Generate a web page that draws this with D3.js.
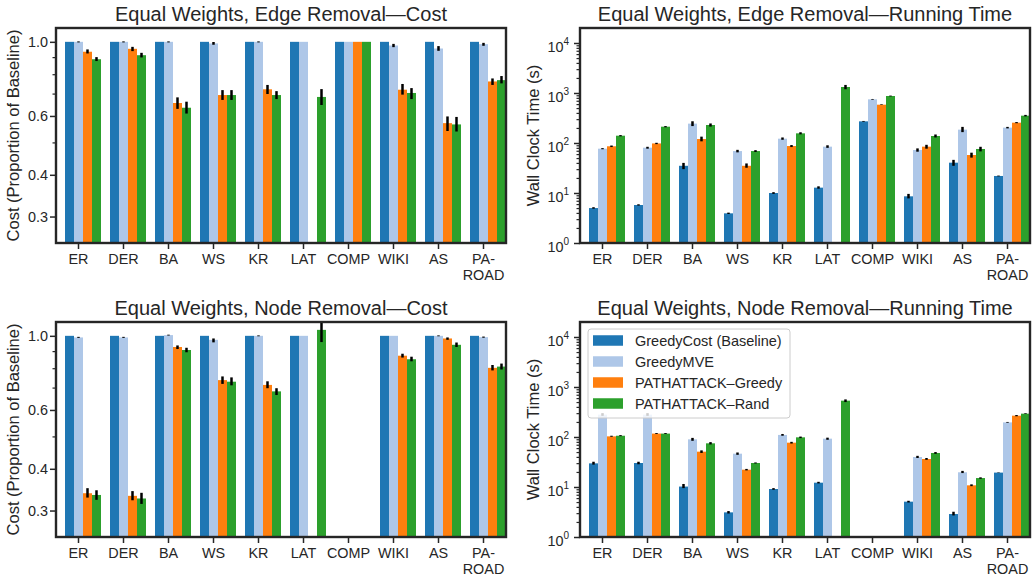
<!DOCTYPE html>
<html>
<head>
<meta charset="utf-8">
<script src="https://cdn.jsdelivr.net/npm/d3@7"></script>
<style>
  body { margin: 0; background: #fff; }
  text { font-family: "Liberation Sans", Arial, sans-serif; fill: #262626; }
</style>
</head>
<body>
<svg id="chart" width="1034" height="580"></svg>
<script>
// ---- categories and methods ----
const categories = ["ER", "DER", "BA", "WS", "KR", "LAT", "COMP", "WIKI", "AS", "PA-ROAD"];
const methods = ["GreedyCost (Baseline)", "GreedyMVE", "PATHATTACK\u2013Greedy", "PATHATTACK\u2013Rand"];
const colors = ["#1f77b4", "#aec7e8", "#ff7f0e", "#2ca02c"];

// ---- Edge removal: cost (proportion of baseline) ----
const edgeCostBase   = [1, 1, 1, 1, 1, 1, 1, 1, 1, 1];
const edgeCostMve    = [1.0, 1.0, 1.0, 0.989, 1.0, 1.0, 1.0, 0.975, 0.955, 0.984];
const edgeCostGreedy = [0.934, 0.953, 0.656, 0.693, 0.721, null, 1.0, 0.719, 0.571, 0.761];
const edgeCostRand   = [0.887, 0.912, 0.635, 0.693, 0.693, 0.684, 1.0, 0.703, 0.566, 0.768];
const edgeCostMveCI    = [[0.996, 1.003], [0.996, 1.003], [0.996, 1.003], [0.980, 0.999], [0.996, 1.003], null, null, [0.964, 0.986], [0.940, 0.971], [0.973, 0.993]];
const edgeCostGreedyCI = [[0.923, 0.949], [0.938, 0.966], [0.630, 0.682], [0.670, 0.717], [0.698, 0.743], null, null, [0.695, 0.748], [0.541, 0.598], [0.743, 0.777]];
const edgeCostRandCI   = [[0.876, 0.900], [0.898, 0.927], [0.610, 0.662], [0.670, 0.717], [0.674, 0.712], [0.647, 0.722], null, [0.674, 0.727], [0.539, 0.596], [0.751, 0.790]];

// ---- Edge removal: running time (s) ----
const edgeTimeBase   = [5.0, 5.75, 35, 3.92, 10, 12.8, 271, 8.58, 40.4, 21.9];
const edgeTimeMve    = [77, 80.6, 244, 69, 122, 84.5, 747, 72.4, 185, 203];
const edgeTimeGreedy = [86, 98, 120, 35, 87, null, 584, 84.5, 57.5, 255];
const edgeTimeRand   = [140, 212, 229, 69, 156, 1318, 871, 138, 75.9, 352];
const edgeTimeBaseCI   = [[4.85, 5.2], [5.6, 5.95], [30, 40], [3.8, 4.05], [9.6, 10.4], [12.2, 13.6], [266, 276], [7.8, 9.6], [35, 46], [21.5, 22.3]];
const edgeTimeMveCI    = [[75, 79], [77, 84], [218, 272], [65, 73], [116, 129], [80, 90], [735, 760], [67, 78], [165, 210], [196, 210]];
const edgeTimeGreedyCI = [[83, 89], [95, 101], [108, 134], [32, 39], [83, 91], null, [575, 593], [77, 92], [51, 64], [249, 262]];
const edgeTimeRandCI   = [[136, 144], [206, 218], [213, 246], [66, 72], [149, 164], [1190, 1450], [855, 888], [129, 148], [68, 84], [340, 365]];

// ---- Node removal: cost (proportion of baseline) ----
const nodeCostBase   = [1, 1, 1, 1, 1, 1, null, 1, 1, 1];
const nodeCostMve    = [0.989, 0.989, 1.005, 0.973, 1.0, 1.0, null, 1.0, 1.0, 0.991];
const nodeCostGreedy = [0.338, 0.332, 0.926, 0.737, 0.713, null, null, 0.872, 0.982, 0.802];
const nodeCostRand   = [0.334, 0.326, 0.907, 0.729, 0.682, 1.042, null, 0.851, 0.940, 0.809];
const nodeCostMveCI    = [[0.986, 0.993], [0.986, 0.993], [1.002, 1.008], [0.956, 0.982], [0.997, 1.003], null, null, null, [0.997, 1.003], [0.987, 0.995]];
const nodeCostGreedyCI = [[0.328, 0.350], [0.322, 0.343], [0.913, 0.936], [0.718, 0.756], [0.697, 0.731], null, null, [0.861, 0.884], [0.973, 0.989], [0.788, 0.818]];
const nodeCostRandCI   = [[0.323, 0.345], [0.314, 0.339], [0.893, 0.921], [0.711, 0.751], [0.665, 0.697], [0.958, 1.12], null, [0.839, 0.866], [0.926, 0.955], [0.793, 0.826]];

// ---- Node removal: running time (s) ----
const nodeTimeBase   = [29.7, 30.2, 10.2, 3.11, 9.12, 12.2, null, 5.09, 2.88, 19.4];
const nodeTimeMve    = [280, 280, 89.8, 46.4, 110, 92.6, null, 39.8, 19.7, 196];
const nodeTimeGreedy = [103, 117, 50.9, 22.2, 77, null, null, 36.3, 10.8, 267];
const nodeTimeRand   = [106, 117, 74.7, 30.2, 98.5, 533, null, 47.9, 15.1, 293];
const nodeTimeBaseCI   = [[28, 32], [28.5, 32], [9.5, 11.5], [2.95, 3.3], [8.8, 9.5], [11.8, 12.7], null, [4.9, 5.3], [2.7, 3.2], [19.2, 19.6]];
const nodeTimeMveCI    = [[265, 300], [265, 300], [84, 96], [44, 49], [106, 115], [88, 97], null, [38, 42], [19, 21], [193, 200]];
const nodeTimeGreedyCI = [[101, 106], [115, 120], [48, 54], [21.5, 23], [74, 80], null, null, [35, 38], [10.4, 11.3], [260, 275]];
const nodeTimeRandCI   = [[104, 109], [115, 120], [71, 79], [29.5, 31], [95, 102], [500, 565], null, [46, 50], [14.6, 15.6], [288, 298]];

// ---- axis ticks ----
const costMajorTicks = [0.3, 0.4, 0.6, 1.0];
const costMinorTicks = [0.5, 0.7, 0.8, 0.9];
const timeMajorExponents = [0, 1, 2, 3, 4];

const svg = d3.select("#chart");
const INK = "#262626";
const PW = 450, PH = 215;

function drawPanel(cfg, idx) {
  const g = svg.append("g").attr("transform", `translate(${cfg.left},${cfg.top})`);
  const x = d3.scaleBand().domain(categories).range([0, PW]);
  // bars of a group sit half a bar to the right of the category centre
  const barW = x.bandwidth() * 0.2;
  const inner = d3.scaleBand().domain(d3.range(methods.length))
    .range([x.bandwidth() * 0.1 + barW / 2, x.bandwidth() * 0.9 + barW / 2]);
  const y = d3.scaleLog().domain(cfg.domain).range([PH, 0]);

  const clipId = "clip" + idx;
  g.append("clipPath").attr("id", clipId)
    .append("rect").attr("width", PW).attr("height", PH);
  const plot = g.append("g").attr("clip-path", `url(#${clipId})`);

  // bars
  cfg.series.forEach((vals, si) => {
    const rows = categories.map((c, i) => ({ c, v: vals[i] })).filter(d => d.v != null);
    plot.append("g").selectAll("rect").data(rows).join("rect")
      .attr("x", d => x(d.c) + inner(si))
      .attr("width", inner.bandwidth())
      .attr("y", d => y(d.v))
      .attr("height", d => PH - y(d.v))
      .attr("fill", colors[si]);
  });

  // error bars
  cfg.ci.forEach((ci, si) => {
    if (!ci) return;
    const rows = categories.map((c, i) => ({ c, e: ci[i], v: cfg.series[si][i] }))
      .filter(d => d.e && d.v != null);
    plot.append("g").selectAll("line").data(rows).join("line")
      .attr("x1", d => x(d.c) + inner(si) + inner.bandwidth() / 2)
      .attr("x2", d => x(d.c) + inner(si) + inner.bandwidth() / 2)
      .attr("y1", d => y(d.e[0]))
      .attr("y2", d => y(d.e[1]))
      .attr("stroke", "#000")
      .attr("stroke-width", 2.5);
  });

  // x axis: tick marks and (possibly two-line) labels
  const xt = g.append("g").attr("transform", `translate(0,${PH})`)
    .selectAll("g").data(categories).join("g")
    .attr("transform", d => `translate(${x(d) + x.bandwidth() / 2},0)`);
  xt.append("line").attr("y1", 0).attr("y2", 6)
    .attr("stroke", INK).attr("stroke-width", 1.5);
  xt.append("text").attr("text-anchor", "middle").attr("font-size", 14.4)
    .each(function (d) {
      const t = d3.select(this);
      const cut = d.indexOf("-");
      const parts = cut >= 0 ? [d.slice(0, cut + 1), d.slice(cut + 1)] : [d];
      parts.forEach((p, k) => {
        t.append("tspan").attr("x", 0).attr("y", 21 + k * 16).text(p);
      });
    });

  // y axis
  if (cfg.kind === "cost") {
    const ax = g.append("g").call(d3.axisLeft(y).tickValues(costMajorTicks)
      .tickFormat(d3.format(".1f")).tickSize(6).tickPadding(2).tickSizeOuter(0));
    ax.select(".domain").remove();
    ax.selectAll(".tick line").attr("stroke", INK).attr("stroke-width", 1.5);
    ax.selectAll(".tick text").attr("font-size", 14.4).attr("fill", INK);
    const mn = g.append("g").call(d3.axisLeft(y).tickValues(costMinorTicks)
      .tickFormat("").tickSize(3.5).tickSizeOuter(0));
    mn.select(".domain").remove();
    mn.selectAll(".tick line").attr("stroke", INK).attr("stroke-width", 1.2);
  } else {
    const majors = timeMajorExponents.map(e => Math.pow(10, e));
    const minors = [];
    timeMajorExponents.forEach(e => {
      for (let m = 2; m <= 9; m++) {
        const v = m * Math.pow(10, e);
        if (v < cfg.domain[1]) minors.push(v);
      }
    });
    const ax = g.append("g").call(d3.axisLeft(y).tickValues(majors)
      .tickFormat("").tickSize(6).tickSizeOuter(0));
    ax.select(".domain").remove();
    ax.selectAll(".tick line").attr("stroke", INK).attr("stroke-width", 1.5);
    const mn = g.append("g").call(d3.axisLeft(y).tickValues(minors)
      .tickFormat("").tickSize(3.5).tickSizeOuter(0));
    mn.select(".domain").remove();
    mn.selectAll(".tick line").attr("stroke", INK).attr("stroke-width", 1.2);
    const lab = g.append("g").selectAll("text").data(timeMajorExponents).join("text")
      .attr("x", -11).attr("y", d => y(Math.pow(10, d)) + 8.5)
      .attr("text-anchor", "end").attr("font-size", 14.4);
    lab.append("tspan").text("10");
    lab.append("tspan").attr("font-size", 10).attr("dy", -6.5).text(d => d);
  }

  // frame
  g.append("rect").attr("width", PW).attr("height", PH)
    .attr("fill", "none").attr("stroke", INK).attr("stroke-width", 2.4);

  // title and y label
  g.append("text").attr("x", PW / 2).attr("y", -7)
    .attr("text-anchor", "middle").attr("font-size", 20).text(cfg.title);
  g.append("text")
    .attr("transform", `translate(${cfg.ylabX},${PH / 2}) rotate(-90)`)
    .attr("text-anchor", "middle").attr("font-size", 16.5).text(cfg.ylabel);

  if (cfg.legend) {
    const lg = g.append("g").attr("transform", "translate(8,7)");
    lg.append("rect").attr("width", 202).attr("height", 89).attr("rx", 3)
      .attr("fill", "#fff").attr("fill-opacity", 0.8)
      .attr("stroke", "#cccccc").attr("stroke-width", 1);
    const item = lg.selectAll("g.item").data(methods).join("g")
      .attr("class", "item")
      .attr("transform", (d, i) => `translate(5,${11.5 + i * 21})`);
    item.append("rect").attr("y", -5.25).attr("width", 30).attr("height", 10.5)
      .attr("fill", (d, i) => colors[i]);
    item.append("text").attr("x", 42).attr("dy", "0.36em")
      .attr("font-size", 14.5).text(d => d);
  }
}

const panels = [
  { left: 56, top: 28, kind: "cost", domain: [0.25, 1.1],
    title: "Equal Weights, Edge Removal\u2014Cost", ylabel: "Cost (Proportion of Baseline)", ylabX: -37,
    series: [edgeCostBase, edgeCostMve, edgeCostGreedy, edgeCostRand],
    ci: [null, edgeCostMveCI, edgeCostGreedyCI, edgeCostRandCI] },
  { left: 580, top: 28, kind: "time", domain: [1, Math.pow(10, 4.3)],
    title: "Equal Weights, Edge Removal\u2014Running Time", ylabel: "Wall Clock Time (s)", ylabX: -41,
    series: [edgeTimeBase, edgeTimeMve, edgeTimeGreedy, edgeTimeRand],
    ci: [edgeTimeBaseCI, edgeTimeMveCI, edgeTimeGreedyCI, edgeTimeRandCI] },
  { left: 56, top: 322, kind: "cost", domain: [0.25, 1.1],
    title: "Equal Weights, Node Removal\u2014Cost", ylabel: "Cost (Proportion of Baseline)", ylabX: -37,
    series: [nodeCostBase, nodeCostMve, nodeCostGreedy, nodeCostRand],
    ci: [null, nodeCostMveCI, nodeCostGreedyCI, nodeCostRandCI] },
  { left: 580, top: 322, kind: "time", domain: [1, Math.pow(10, 4.3)], legend: true,
    title: "Equal Weights, Node Removal\u2014Running Time", ylabel: "Wall Clock Time (s)", ylabX: -41,
    series: [nodeTimeBase, nodeTimeMve, nodeTimeGreedy, nodeTimeRand],
    ci: [nodeTimeBaseCI, nodeTimeMveCI, nodeTimeGreedyCI, nodeTimeRandCI] }
];

panels.forEach(drawPanel);
</script>
</body>
</html>
